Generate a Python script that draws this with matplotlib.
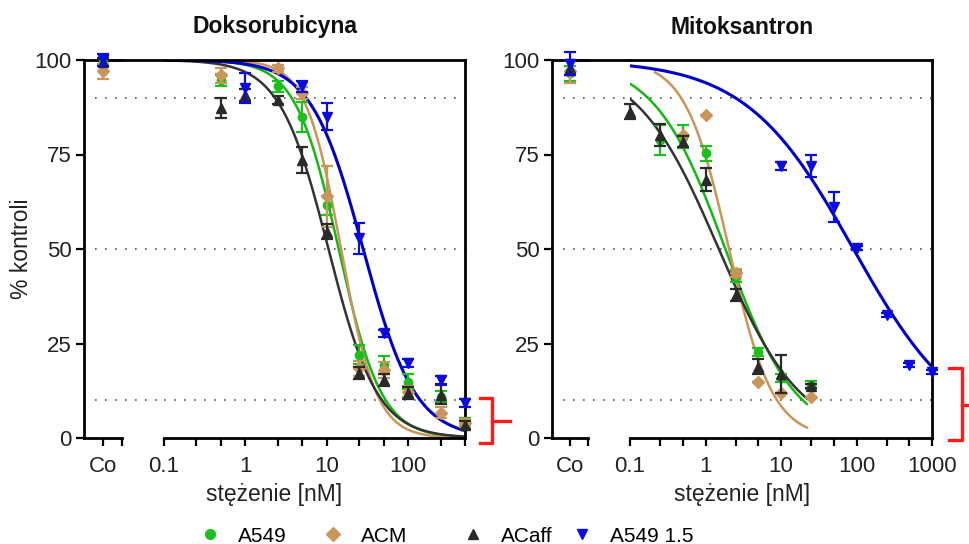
import numpy as np
import matplotlib.pyplot as plt
from matplotlib import font_manager
from matplotlib.lines import Line2D

W, H = 969, 544

names = {f.name for f in font_manager.fontManager.ttflist}
plt.rcParams['font.family'] = ['Liberation Sans', 'DejaVu Sans']
narrow = 'Liberation Sans Narrow' if 'Liberation Sans Narrow' in names else 'Liberation Sans'

series = ['A549', 'ACM', 'ACaff', 'A549 1.5']
colors = ['#1cbf1c', '#c8965a', '#2a2a2a', '#0b0be0']
curve_colors = ['#14b814', '#c8965a', '#333333', '#0000c8']
markers = ['o', 'D', '^', 'v']
msizes = [6, 6.5, 6.5, 7]

# Doksorubicyna: concentrations [nM], % kontroli, SEM
dox_x = [
    [0.5, 2.5, 5, 10, 25, 50, 100, 250, 500],
    [0.5, 2.5, 5, 10, 25, 50, 100, 250, 500],
    [0.5, 1, 2.5, 5, 10, 25, 50, 100, 250, 500],
    [1, 5, 10, 25, 50, 100, 250, 500],
]
dox_y = [
    [94.7, 93, 85, 61.6, 22, 19.3, 14.9, 10.9, 4.3],
    [96, 97.8, 91.3, 63.9, 18.5, 18, 12.3, 6.7, 4],
    [87.3, 90.7, 89.4, 73.5, 54.6, 17.2, 15.3, 11.9, 11.4, 3.4],
    [92.5, 93, 85, 52.8, 27.7, 19.8, 15.3, 9.2],
]
dox_err = [
    [1.5, 1.5, 4, 2.5, 2.5, 2.5, 2, 1.5, 1],
    [2, 1, 1.5, 8, 2, 2, 1.5, 1.5, 1],
    [2.7, 1.5, 1, 3.5, 2, 1.5, 1.5, 1.5, 2.5, 1],
    [4, 1.5, 3.5, 4, 1, 1, 1, 1],
]
dox_co = [99.5, 97, 99.5, 100]
dox_co_err = [1, 2, 1, 1.5]
# fitted curves: IC50, Hill slope, x range
dox_ic50 = [14, 15, 10.5, 28]
dox_hill = [1.65, 2.0, 1.45, 1.36]
dox_range = [(0.1, 500), (0.1, 500), (0.1, 500), (0.1, 500)]

# Mitoksantron
mito_x = [
    [0.25, 0.5, 1, 2.5, 5, 10, 25],
    [0.5, 1, 2.5, 5, 10, 25],
    [0.1, 0.25, 0.5, 1, 2.5, 5, 10, 25],
    [10, 25, 50, 100, 250, 500, 1000],
]
mito_y = [
    [78.8, 79.7, 75.3, 42.7, 22.8, 15.8, 14],
    [80.2, 85.4, 43.6, 14.9, 11.8, 10.9],
    [86.3, 80.2, 78.4, 68.3, 37.8, 18.9, 17, 13.8],
    [72, 72, 61.2, 50.2, 32.5, 19.3, 17.5],
]
mito_err = [
    [4, 3, 2, 1.5, 1, 1, 1],
    [0, 0, 1, 0, 0, 0],
    [2, 3, 1.5, 3, 1.5, 2, 5, 0.5],
    [1, 3, 4, 0.5, 0.5, 0.5, 0.5],
]
mito_co = [96.5, 97, 98, 99]
mito_co_err = [2, 3, 2, 3]
mito_ic50 = [1.83, 2.05, 1.5, 91]
mito_hill = [0.93, 1.5, 0.8, 0.61]
mito_range = [(0.1, 22), (0.215, 22), (0.1, 22), (0.1, 1000)]

ref_levels = [10, 50, 90]

fig = plt.figure(figsize=(W / 100, H / 100), dpi=100)


def fx(px):
    return px / W


def fy(py):
    return 1 - py / H


def panel(co_l, co_tick, co_end, log_l, log_r, xmax, major, minor,
          xs, ys, errs, co_vals, co_errs, ic50, hill, ranges, title, ylabel):
    top, bot = 60, 438
    h = (bot - top) / H
    ax0 = fig.add_axes([fx(co_l), fy(bot), fx(log_l - co_l), h])
    ax1 = fig.add_axes([fx(log_l), fy(bot), fx(log_r - log_l), h])
    w0 = log_l - co_l
    co = co_tick - co_l
    ax0.set_xlim(0, w0)
    ax1.set_xscale('log')
    ax1.set_xlim(0.1, xmax)
    for ax in (ax0, ax1):
        ax.set_ylim(0, 100)
        for s in ax.spines.values():
            s.set_linewidth(2.0)
            s.set_color('black')
        ax.tick_params(which='both', direction='out', length=6, width=1.6,
                       labelsize=16, labelcolor='#222222', pad=3)
        ax.tick_params(axis='x', which='both', pad=7)
    ax0.spines['right'].set_visible(False)
    ax0.spines['bottom'].set_bounds(0, co_end - co_l)
    ax0.set_xticks([co, co_end - co_l])
    ax0.set_xticklabels(['Co', ''])
    ax0.set_yticks([0, 25, 50, 75, 100])
    ax1.spines['left'].set_visible(False)
    ax1.tick_params(axis='y', left=False, labelleft=False)
    ax1.set_xticks(major)
    ax1.set_xticklabels([('%g' % v) for v in major])
    ax1.set_xticks(minor, minor=True)
    ax1.xaxis.set_minor_formatter(plt.NullFormatter())

    # dotted reference lines
    ax0.hlines(ref_levels, 11, w0, colors='#555555', linestyles=(0, (1, 5)), lw=1.2)
    for lv in ref_levels:
        ax1.axhline(lv, color='#555555', ls=(0, (1, 5)), lw=1.2)

    for i in range(4):
        lo, hi = ranges[i]
        cx = np.logspace(np.log10(lo), np.log10(hi), 300)
        cy = 100 / (1 + (cx / ic50[i]) ** hill[i])
        ax1.plot(cx, cy, color=curve_colors[i], lw=1.8 if i < 3 else 2.2, zorder=2)
    for i in range(4):
        cont = ax1.errorbar(xs[i], ys[i], yerr=errs[i], fmt=markers[i], color=colors[i],
                            ms=msizes[i], mec=colors[i], elinewidth=1.6, capsize=4.5,
                            capthick=1.6, zorder=3 + i)
        cont0 = ax0.errorbar([co], [co_vals[i]], yerr=[co_errs[i]], fmt=markers[i],
                             color=colors[i], ms=msizes[i], elinewidth=1.6, capsize=4.5,
                             capthick=1.6, zorder=3 + i)
        for c in (cont, cont0):
            for a in c.get_children():
                a.set_clip_on(False)
    ax0.plot([co, co_end - co_l], [100, 100], color=curve_colors[3], lw=2.0,
             clip_on=False, zorder=2)

    cx_fig = fx((co_l + log_r) / 2)
    fig.text(cx_fig, fy(27), title, ha='center', va='center', fontsize=16.5,
             fontweight='bold', color='#111111')
    fig.text(cx_fig, fy(494), 'stężenie [nM]', ha='center', va='center',
             fontsize=16.5, color='#222222')
    if ylabel:
        fig.text(fx(22), fy(249), ylabel, ha='center', va='center', rotation=90,
                 fontsize=16.5, color='#222222')


panel(84, 103, 122, 164, 465, 500, [0.1, 1, 10, 100],
      [0.25, 0.5, 2.5, 5, 25, 50, 250, 500],
      dox_x, dox_y, dox_err, dox_co, dox_co_err, dox_ic50, dox_hill, dox_range,
      'Doksorubicyna', '% kontroli')
panel(552, 570, 588, 630, 932, 1000, [0.1, 1, 10, 100, 1000],
      [0.25, 0.5, 2.5, 5, 25, 50, 250, 500],
      mito_x, mito_y, mito_err, mito_co, mito_co_err, mito_ic50, mito_hill, mito_range,
      'Mitoksantron', None)

# legend entries
leg_pos = [210, 333, 473, 582]
leg_ms = [7, 7.5, 6.5, 6.5]
for i in range(4):
    hnd = Line2D([], [], marker=markers[i], color=colors[i], ls='none', ms=leg_ms[i])
    fig.legend(handles=[hnd], labels=[series[i]], loc='center left',
               bbox_to_anchor=(fx(leg_pos[i] - 10.5), fy(536)), frameon=False,
               borderpad=0, borderaxespad=0, handlelength=1.0, handletextpad=0.85,
               prop={'family': narrow, 'size': 15})

# red brackets
red = '#ff1a1a'
fig.add_artist(Line2D([fx(480), fx(492), fx(492), fx(480)],
                      [fy(398), fy(398), fy(443), fy(443)], color=red, lw=2.4))
fig.add_artist(Line2D([fx(492), fx(510)], [fy(421), fy(421)], color=red, lw=2.4))
fig.add_artist(Line2D([fx(949), fx(962), fx(962), fx(949)],
                      [fy(368), fy(368), fy(440), fy(440)], color=red, lw=2.4))
fig.add_artist(Line2D([fx(962), fx(975)], [fy(405), fy(405)], color=red, lw=2.4))

fig.savefig('out.png', dpi=100)
